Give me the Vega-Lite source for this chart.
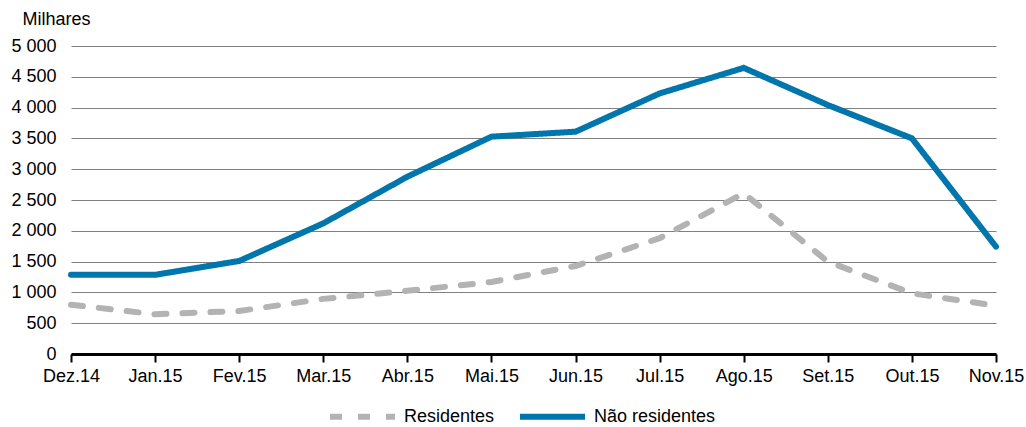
{
  "$schema": "https://vega.github.io/schema/vega-lite/v6.json",
  "width": 925,
  "height": 308,
  "autosize": {"type": "none"},
  "padding": {"left": 71, "top": 46, "right": 30, "bottom": 73},
  "background": "white",
  "config": {
    "font": "Liberation Sans",
    "view": {"stroke": null}
  },
  "data": {
    "values": [
      {"mes": "Dez.14", "serie": "Residentes", "valor": 800},
      {"mes": "Jan.15", "serie": "Residentes", "valor": 645},
      {"mes": "Fev.15", "serie": "Residentes", "valor": 698},
      {"mes": "Mar.15", "serie": "Residentes", "valor": 895},
      {"mes": "Abr.15", "serie": "Residentes", "valor": 1025},
      {"mes": "Mai.15", "serie": "Residentes", "valor": 1170},
      {"mes": "Jun.15", "serie": "Residentes", "valor": 1429},
      {"mes": "Jul.15", "serie": "Residentes", "valor": 1880},
      {"mes": "Ago.15", "serie": "Residentes", "valor": 2609},
      {"mes": "Set.15", "serie": "Residentes", "valor": 1499},
      {"mes": "Out.15", "serie": "Residentes", "valor": 985},
      {"mes": "Nov.15", "serie": "Residentes", "valor": 785},
      {"mes": "Dez.14", "serie": "Não residentes", "valor": 1285},
      {"mes": "Jan.15", "serie": "Não residentes", "valor": 1285},
      {"mes": "Fev.15", "serie": "Não residentes", "valor": 1510},
      {"mes": "Mar.15", "serie": "Não residentes", "valor": 2121},
      {"mes": "Abr.15", "serie": "Não residentes", "valor": 2878},
      {"mes": "Mai.15", "serie": "Não residentes", "valor": 3528},
      {"mes": "Jun.15", "serie": "Não residentes", "valor": 3609},
      {"mes": "Jul.15", "serie": "Não residentes", "valor": 4230},
      {"mes": "Ago.15", "serie": "Não residentes", "valor": 4645},
      {"mes": "Set.15", "serie": "Não residentes", "valor": 4042},
      {"mes": "Out.15", "serie": "Não residentes", "valor": 3501},
      {"mes": "Nov.15", "serie": "Não residentes", "valor": 1742}
    ]
  },
  "mark": {"type": "line", "strokeWidth": 6, "strokeCap": "round", "strokeJoin": "miter"},
  "encoding": {
    "x": {
      "field": "mes",
      "type": "ordinal",
      "sort": null,
      "scale": {"type": "point", "padding": 0},
      "axis": {
        "title": null,
        "labelAngle": 0,
        "labelFontSize": 18,
        "labelColor": "#000000",
        "labelPadding": 5,
        "domainColor": "#000000",
        "domainWidth": 3,
        "tickColor": "#000000",
        "tickWidth": 2,
        "tickSize": 8,
        "grid": false
      }
    },
    "y": {
      "field": "valor",
      "type": "quantitative",
      "scale": {"domain": [0, 5000], "nice": false},
      "axis": {
        "values": [0, 500, 1000, 1500, 2000, 2500, 3000, 3500, 4000, 4500, 5000],
        "labelExpr": "replace(format(datum.value, ',d'), ',', ' ')",
        "labelFontSize": 18,
        "labelColor": "#000000",
        "labelPadding": 15,
        "domain": false,
        "ticks": false,
        "grid": true,
        "gridColor": "#808080",
        "gridWidth": 1,
        "title": "Milhares",
        "titleAngle": 0,
        "titleFontSize": 18,
        "titleFontWeight": "normal",
        "titleColor": "#000000",
        "titleAlign": "left",
        "titleBaseline": "middle",
        "titleX": -49,
        "titleY": -27
      }
    },
    "color": {
      "field": "serie",
      "type": "nominal",
      "scale": {"domain": ["Residentes", "Não residentes"], "range": ["#b3b3b3", "#0076ad"]},
      "legend": {
        "title": null,
        "orient": "none",
        "direction": "horizontal",
        "legendX": 256,
        "legendY": 335,
        "symbolType": "stroke",
        "symbolSize": 4225,
        "symbolStrokeWidth": 6,
        "labelFontSize": 18,
        "labelColor": "#000000",
        "labelOffset": 6,
        "columnPadding": 13
      }
    },
    "strokeDash": {
      "field": "serie",
      "type": "nominal",
      "scale": {"domain": ["Residentes", "Não residentes"], "range": [[12, 16], [1, 0]]},
      "legend": null
    }
  }
}
